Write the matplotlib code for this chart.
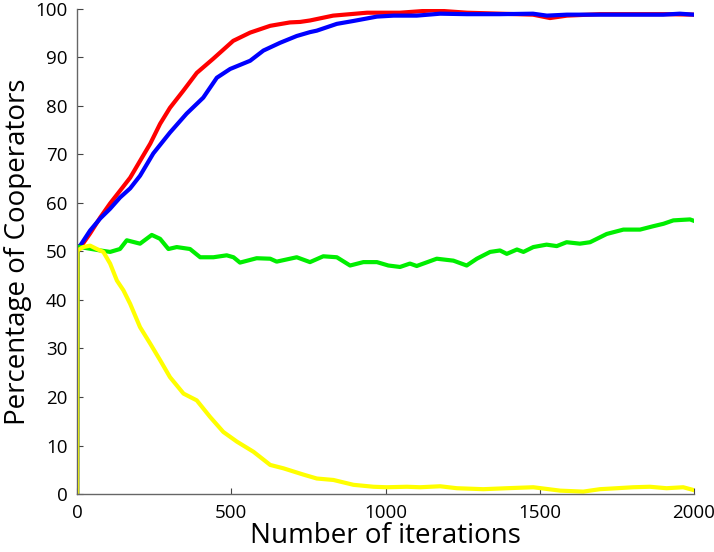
import matplotlib.pyplot as plt

plt.rcParams['font.family'] = ['Open Sans', 'DejaVu Sans']

# red series
red_x = [0, 1, 10, 42, 75, 107, 139, 172, 210, 237, 269, 301, 344, 388, 441, 506, 561, 626, 690, 723, 755,
         830, 940, 1047, 1154, 1264, 1371, 1478, 1533, 1588, 1695, 1803, 1911, 2000]
red_y = [0, 51, 50.8, 53.7, 57, 59.9, 62.5, 65.2, 69.3, 72.2, 76.3, 79.6, 83.1, 86.8, 89.7, 93.4, 95.1, 96.5, 97.2, 97.3, 97.6,
         98.6, 99.2, 99.2, 99.7, 99.2, 99.0, 98.8, 98.1, 98.6, 98.9, 98.9, 98.9, 98.8]

# blue series
blue_x = [0, 1, 10, 42, 75, 107, 139, 172, 204, 247, 301, 355, 409, 453, 496, 561, 604, 658, 712, 755, 777,
          842, 896, 972, 1026, 1101, 1177, 1264, 1371, 1478, 1523, 1588, 1700, 1800, 1900, 1954, 2000]
blue_y = [0, 51, 51.2, 54.3, 56.8, 58.8, 61.1, 63, 65.6, 70.2, 74.5, 78.4, 81.7, 85.8, 87.6, 89.3, 91.4, 93, 94.4, 95.2, 95.5,
          96.9, 97.5, 98.4, 98.6, 98.6, 99.0, 98.9, 98.9, 99.0, 98.6, 98.8, 98.8, 98.8, 98.8, 99.0, 98.8]

# green series
green_x = [0, 1, 10, 75, 107, 139, 161, 204, 242, 269, 296, 323, 366, 399, 442, 485, 507, 528, 582, 626, 647,
           712, 755, 798, 842, 885, 928, 972, 1009, 1047, 1079, 1101, 1166, 1220, 1263, 1296, 1339, 1371, 1393,
           1426, 1447, 1479, 1522, 1555, 1587, 1630, 1663, 1717, 1771, 1825, 1868, 1901, 1933, 1987, 2000]
green_y = [0, 51, 50.9, 50.2, 49.9, 50.5, 52.3, 51.6, 53.4, 52.6, 50.5, 50.9, 50.5, 48.8, 48.8, 49.2, 48.8, 47.7, 48.6, 48.5, 47.9,
           48.8, 47.8, 49.0, 48.8, 47.1, 47.8, 47.8, 47.1, 46.8, 47.5, 47.0, 48.5, 48.1, 47.1, 48.5, 49.9, 50.2, 49.5,
           50.4, 49.9, 50.9, 51.4, 51.1, 51.9, 51.6, 51.9, 53.6, 54.5, 54.5, 55.2, 55.7, 56.4, 56.6, 56.3]

# yellow series
yellow_x = [0, 1, 20, 42, 64, 85, 107, 129, 150, 172, 204, 237, 269, 301, 345, 388, 431, 474, 518, 572, 626, 669,
            734, 777, 831, 896, 961, 1004, 1069, 1112, 1177, 1231, 1317, 1393, 1479, 1566, 1641, 1695, 1750, 1803,
            1857, 1911, 1965, 2000]
yellow_y = [0, 50.2, 50.9, 51.2, 50.5, 49.9, 47.5, 44, 42, 39.2, 34.4, 31, 27.6, 24.1, 20.7, 19.3, 15.9, 12.8, 10.8, 8.7, 6.0, 5.3,
            4.0, 3.2, 2.9, 1.9, 1.5, 1.4, 1.5, 1.4, 1.6, 1.2, 1.0, 1.2, 1.4, 0.7, 0.5, 1.0, 1.2, 1.4,
            1.5, 1.2, 1.4, 0.8]

fig = plt.figure(figsize=(7.14, 5.52), dpi=100)
ax = fig.add_axes([0.108, 0.105, 0.864, 0.879])

lw = 3.0
ax.plot(red_x, red_y, color='#ff0000', lw=lw)
ax.plot(blue_x, blue_y, color='#0000ff', lw=lw)
ax.plot(green_x, green_y, color='#00ee00', lw=lw)
ax.plot(yellow_x, yellow_y, color='#ffff00', lw=lw)

ax.set_xlim(0, 2000)
ax.set_ylim(0, 100)
ax.set_xticks([0, 500, 1000, 1500, 2000])
ax.set_yticks(range(0, 101, 10))

for s in ['top', 'right']:
    ax.spines[s].set_visible(False)
for s in ['left', 'bottom']:
    ax.spines[s].set_color('#666666')
    ax.spines[s].set_linewidth(1.0)

ax.tick_params(direction='in', length=4, width=0.8, color='#444444', labelsize=13.5, pad=7)

ax.set_xlabel('Number of iterations', fontsize=20, labelpad=0)
ax.set_ylabel('Percentage of Cooperators', fontsize=20, labelpad=2)

fig.savefig('out.png', dpi=100)
